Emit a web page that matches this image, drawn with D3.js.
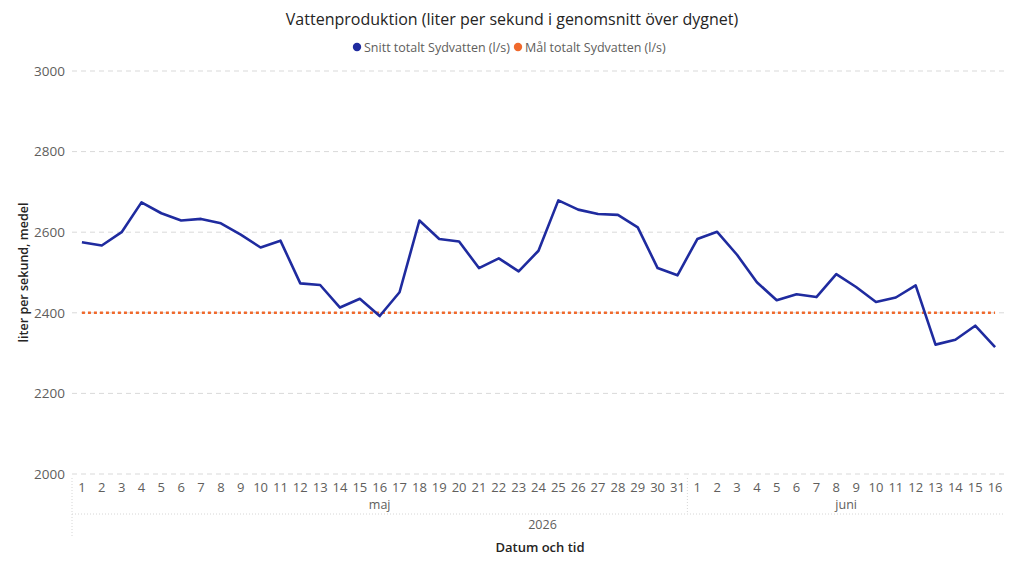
<!DOCTYPE html>
<html><head><meta charset="utf-8">
<script src="https://cdn.jsdelivr.net/npm/d3@7"></script>
<style>
body{margin:0;background:#fff;}
svg{display:block;}
text{font-family:"Segoe UI","Open Sans",sans-serif;}
</style></head>
<body><svg id="c" width="1024" height="584"></svg>
<script>
const title = "Vattenproduktion (liter per sekund i genomsnitt över dygnet)";
const seriesNames = ["Snitt totalt Sydvatten (l/s)", "Mål totalt Sydvatten (l/s)"];
const mayDays = d3.range(1, 32);
const juneDays = d3.range(1, 17);
const snitt = [2575,2567,2600,2674,2647,2629,2633,2622,2594,2562,2579,2473,2469,2413,2435,2392,2451,2629,2583,2577,2511,2535,2503,2554,2679,2656,2645,2643,2612,2511,2493,
               2583,2601,2544,2476,2431,2446,2439,2496,2464,2427,2438,2468,2321,2333,2368,2315];
const malValue = 2400;
const yTicks = [2000,2200,2400,2600,2800,3000];
const months = ["maj","juni"];
const year = "2026";

const cats = mayDays.map(d=>"maj-"+d).concat(juneDays.map(d=>"juni-"+d));
const labels = mayDays.concat(juneDays);
const mal = cats.map(()=>malValue);

const svg = d3.select("#c");
const L=72, R=1005, T=71, B=474;
const x = d3.scaleBand().domain(cats).range([L,R]);
const xc = c => x(c)+x.bandwidth()/2;
const y = d3.scaleLinear().domain([2000,3000]).range([B,T]);
const blue="#1F2B9F", orange="#F0692C";

// title
svg.append("text").attr("x",512).attr("y",25).attr("text-anchor","middle")
  .attr("font-size",16).attr("fill","#252423").text(title);
// legend
const lg = svg.append("g");
const legItems = [{n:seriesNames[0],c:blue,x:357},{n:seriesNames[1],c:orange,x:518}];
legItems.forEach(it=>{
  lg.append("circle").attr("cx",it.x).attr("cy",47).attr("r",4.2).attr("fill",it.c);
  lg.append("text").attr("x",it.x+7).attr("y",52).attr("font-size",12.5).attr("fill","#605E5C").text(it.n);
});

// grid
svg.append("g").selectAll("line").data(yTicks).join("line")
  .attr("x1",L).attr("x2",R).attr("y1",d=>y(d)).attr("y2",d=>y(d))
  .attr("stroke","#d9d9d9").attr("stroke-dasharray","5,4").attr("stroke-width",1);
// y axis labels
const ya = svg.append("g").attr("transform",`translate(${L},0)`)
  .call(d3.axisLeft(y).tickValues(yTicks).tickFormat(d3.format("d")).tickSize(0).tickPadding(7));
ya.select(".domain").remove();
ya.selectAll("text").attr("font-size",13.5).attr("fill","#605E5C").attr("font-family","'Segoe UI','Open Sans',sans-serif");
svg.append("text").attr("transform",`translate(28,${(T+B)/2}) rotate(-90)`).attr("text-anchor","middle")
  .attr("font-size",12.5).attr("fill","#252423").attr("font-weight","600").text("liter per sekund, medel");

// x axis
const xa = svg.append("g").attr("transform",`translate(0,${B})`)
  .call(d3.axisBottom(x).tickSize(0).tickPadding(9).tickFormat((d,i)=>labels[i]));
xa.select(".domain").remove();
xa.selectAll("text").attr("font-size",13).attr("fill","#605E5C").attr("font-family","'Segoe UI','Open Sans',sans-serif");

// hierarchy dotted lines
const dot = {stroke:"#d6d6d6","stroke-dasharray":"1,2","stroke-width":1};
function dl(x1,y1,x2,y2){const l=svg.append("line").attr("x1",x1).attr("y1",y1).attr("x2",x2).attr("y2",y2);Object.entries(dot).forEach(([k,v])=>l.attr(k,v));}
const splitX = x("juni-1");
dl(L,478,L,536);
dl(splitX,478,splitX,514);
dl(L,514,R,514);
const mayMid = (x("maj-1")+x("maj-31")+x.bandwidth())/2;
const juneMid = (x("juni-1")+x("juni-16")+x.bandwidth())/2;
[[months[0],mayMid],[months[1],juneMid]].forEach(([t,cx])=>{
  svg.append("text").attr("x",cx).attr("y",509).attr("text-anchor","middle").attr("font-size",12.5).attr("fill","#605E5C").text(t);
});
svg.append("text").attr("x",(L+R)/2+4).attr("y",529).attr("text-anchor","middle").attr("font-size",12.5).attr("fill","#605E5C").text(year);
svg.append("text").attr("x",540).attr("y",552).attr("text-anchor","middle").attr("font-size",13).attr("font-weight","600").attr("fill","#252423").text("Datum och tid");

// target line
svg.append("path").datum(mal).attr("fill","none").attr("stroke",orange).attr("stroke-width",2.6)
  .attr("stroke-dasharray","3,3")
  .attr("d",d3.line().x((d,i)=>xc(cats[i])).y(d=>y(d)));
// series line
svg.append("path").datum(snitt).attr("fill","none").attr("stroke",blue).attr("stroke-width",2.6)
  .attr("stroke-linejoin","round")
  .attr("d",d3.line().x((d,i)=>xc(cats[i])).y(d=>y(d)));
</script></body></html>
